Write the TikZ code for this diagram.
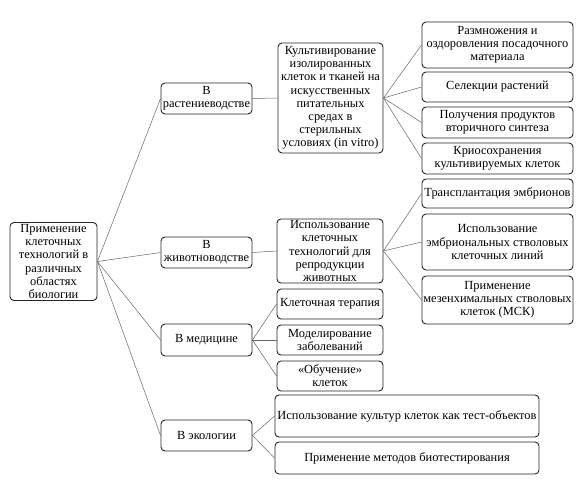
\documentclass[tikz,border=0pt]{standalone}
\usepackage{fontspec}
\setmainfont{Liberation Serif}
\begin{document}
\begin{tikzpicture}[x=1pt,y=-1pt,
  box/.style={draw=black!85, line width=0.9pt, rounded corners=4pt, align=center, inner sep=0pt,
    font=\fontsize{12.4}{13.2}\selectfont},
  link/.style={draw=black!60, line width=0.5pt}]
\useasboundingbox (0,0) rectangle (582,480);
\newcommand{\bx}[6]{\node[box, minimum width=#3, minimum height=#4] (#5) at (#1,#2) {#6};}
\bx{53.5}{261.5}{87}{78}{root}{Применение\\клеточных\\технологий в\\различных\\областях\\биологии}
\bx{206.5}{98.5}{91}{31}{rast}{В\\растениеводстве}
\bx{206.5}{252.5}{91}{31}{zhiv}{В\\животноводстве}
\bx{206.5}{340}{91}{32}{med}{В медицине}
\bx{206.5}{435.5}{91}{31}{eco}{В экологии}
\bx{330.5}{98}{105}{110}{kult}{Культивирование\\изолированных\\клеток и тканей на\\искусственных\\питательных\\средах в\\стерильных\\условиях (in vitro)}
\bx{330}{251}{106}{64}{repr}{Использование\\клеточных\\технологий для\\репродукции\\животных}
\bx{330}{304}{106}{30}{ter}{Клеточная терапия}
\bx{330}{340}{106}{30}{mod}{Моделирование\\заболеваний}
\bx{330}{376}{106}{30}{obuch}{«Обучение»\\клеток}
\bx{407}{416}{264}{42}{kt}{Использование культур клеток как тест-объектов}
\bx{407}{458}{264}{32}{bio}{Применение методов биотестирования}
\bx{497.5}{45}{151}{46}{razm}{Размножения и\\оздоровления посадочного\\материала}
\bx{497.5}{87}{151}{30}{sel}{Селекции растений}
\bx{497.5}{122.5}{151}{31}{pol}{Получения продуктов\\вторичного синтеза}
\bx{497.5}{158.5}{151}{31}{krio}{Криосохранения\\культивируемых клеток}
\bx{497.5}{193.5}{151}{29}{trans}{Трансплантация эмбрионов}
\bx{497.5}{242}{151}{56}{embr}{Использование\\эмбриональных стволовых\\клеточных линий}
\bx{497.5}{300}{151}{48}{mez}{Применение\\мезенхимальных стволовых\\клеток (МСК)}
\foreach \t in {rast,zhiv,med,eco} \draw[link] (root.east) -- (\t.west);
\draw[link] (rast.east) -- (kult.west);
\draw[link] (zhiv.east) -- (repr.west);
\foreach \t in {ter,mod,obuch} \draw[link] (med.east) -- (\t.west);
\foreach \t in {kt,bio} \draw[link] (eco.east) -- (\t.west);
\foreach \t in {razm,sel,pol,krio} \draw[link] (kult.east) -- (\t.west);
\foreach \t in {trans,embr,mez} \draw[link] (repr.east) -- (\t.west);
\end{tikzpicture}
\end{document}
